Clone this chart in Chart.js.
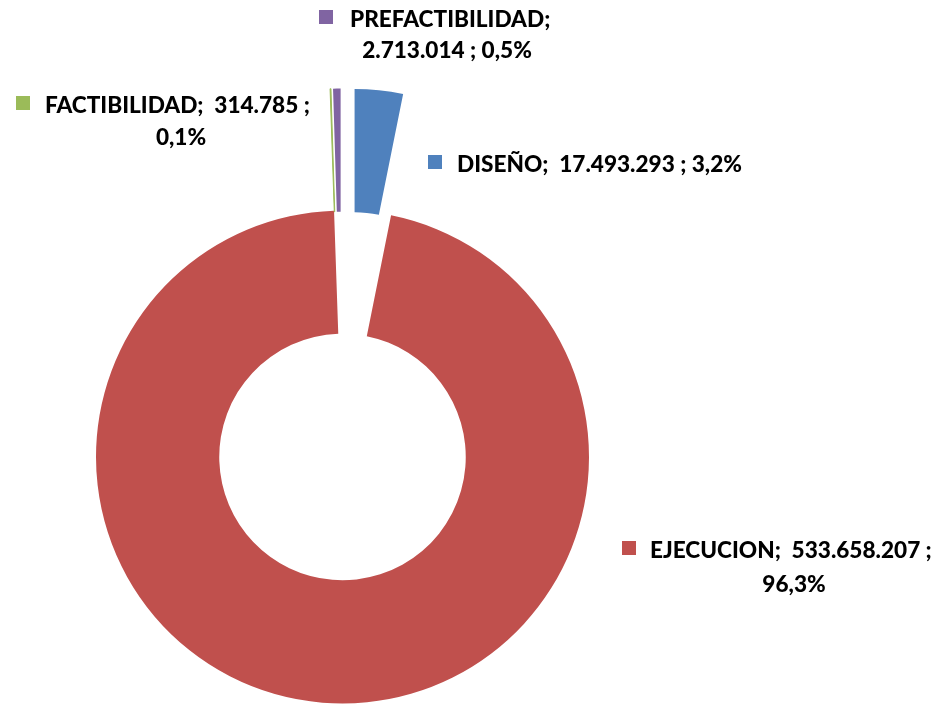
<!DOCTYPE html>
<html>
<head>
<meta charset="utf-8">
<script src="https://cdn.jsdelivr.net/npm/chart.js@4/dist/chart.umd.min.js"></script>
<style>
  html, body { margin: 0; padding: 0; background: #ffffff; }
  #wrap { position: relative; width: 945px; height: 705px; }
</style>
</head>
<body>
<div id="wrap"><canvas id="c" width="945" height="705"></canvas></div>
<script>
// ---- data ----
const categories = ['DISEÑO', 'EJECUCION', 'FACTIBILIDAD', 'PREFACTIBILIDAD'];
const values = [17493293, 533658207, 314785, 2713014];
const colors = ['#4F81BD', '#C0504D', '#9BBB59', '#8064A2'];

// ---- style / layout ----
const explode = [122, 0, 122, 122];           // radial explosion of each slice (px)
const labelFont = '900 22.6px Lato, "Open Sans", sans-serif';
// label layout: square x, text x, baseline of line 1, centre x and baseline of line 2
const labelLayout = [
  { sq: 428, tx: 457, b1: 172, split: false },
  { sq: 622, tx: 650, b1: 558, c2: 794, b2: 592, split: true },
  { sq: 16,  tx: 45,  b1: 113, c2: 181, b2: 145, split: true },
  { sq: 319, tx: 350, b1: 27,  c2: 447, b2: 58,  split: true, nameOnly: true }
];

const total = values.reduce((a, b) => a + b, 0);
function fmtNum(v) { return String(v).replace(/\B(?=(\d{3})+(?!\d))/g, '.'); }
function fmtPct(v) { return (v / total * 100).toFixed(1).replace('.', ',') + '%'; }

const explodePlugin = {
  id: 'explode',
  beforeDatasetsDraw(chart) {
    const ca = chart.chartArea;
    const cx = (ca.left + ca.right) / 2, cy = (ca.top + ca.bottom) / 2;
    const meta = chart.getDatasetMeta(0);
    meta.data.forEach((arc, i) => {
      const mid = (arc.startAngle + arc.endAngle) / 2;
      arc.x = cx + Math.cos(mid) * explode[i];
      arc.y = cy + Math.sin(mid) * explode[i];
    });
  }
};

const labelPlugin = {
  id: 'sliceLabels',
  afterDraw(chart) {
    const ctx = chart.ctx;
    ctx.save();
    ctx.font = labelFont;
    ctx.textBaseline = 'alphabetic';
    categories.forEach((cat, i) => {
      const L = labelLayout[i];
      ctx.fillStyle = colors[i];
      ctx.fillRect(L.sq, L.b1 - 17, 14, 14);
      ctx.fillStyle = '#000000';
      let line1, line2;
      if (!L.split) {
        line1 = cat + ';  ' + fmtNum(values[i]) + ' ; ' + fmtPct(values[i]);
      } else if (L.nameOnly) {
        line1 = cat + ';';
        line2 = fmtNum(values[i]) + ' ; ' + fmtPct(values[i]);
      } else {
        line1 = cat + ';  ' + fmtNum(values[i]) + ' ;';
        line2 = fmtPct(values[i]);
      }
      ctx.textAlign = 'left';
      ctx.fillText(line1, L.tx, L.b1);
      if (line2) {
        ctx.textAlign = 'center';
        ctx.fillText(line2, L.c2, L.b2);
      }
    });
    ctx.restore();
  }
};

new Chart(document.getElementById('c'), {
  type: 'doughnut',
  data: {
    labels: categories,
    datasets: [{
      data: values,
      backgroundColor: colors,
      borderColor: colors,
      borderWidth: [0, 0, 1, 0],
      clip: false
    }]
  },
  options: {
    responsive: false,
    animation: false,
    radius: 246.5,
    cutout: '50%',
    layout: { padding: { left: 0, right: 260, top: 209, bottom: 0 } },
    plugins: { legend: { display: false }, tooltip: { enabled: false } }
  },
  plugins: [explodePlugin, labelPlugin]
});
</script>
</body>
</html>
